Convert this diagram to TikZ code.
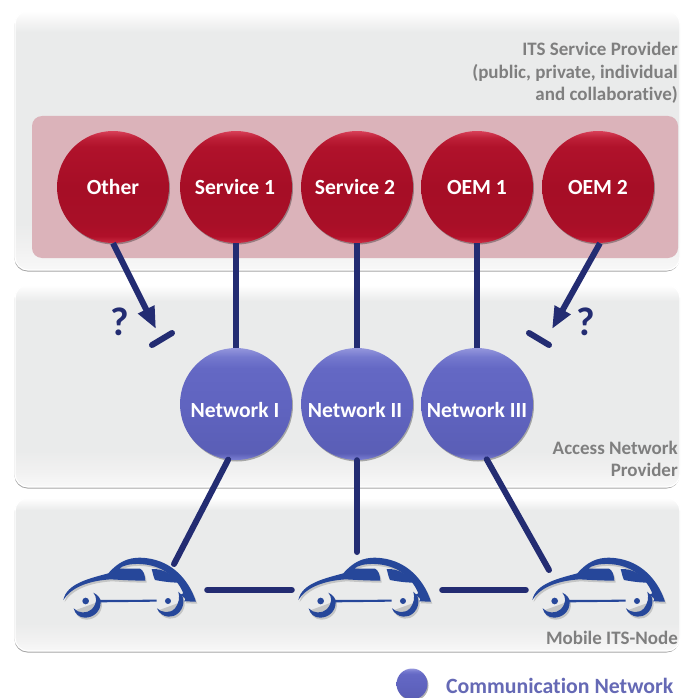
\documentclass[tikz,border=0pt]{standalone}
\usepackage{fontspec}
\setmainfont[Ligatures=NoCommon]{Carlito}
\usetikzlibrary{shadows,arrows.meta,fadings}
\definecolor{navy}{HTML}{232C72}
\definecolor{carblue}{HTML}{26479A}
\definecolor{labelgrey}{HTML}{7F7F7F}
\definecolor{bluerim}{HTML}{4A4EA8}
\definecolor{panelrose}{HTML}{DBB3BA}
\definecolor{pa}{HTML}{F8F8F8}
\definecolor{pb}{HTML}{F1F1F1}
\definecolor{pc}{HTML}{EAEBEB}
\definecolor{pd}{HTML}{FAFAFA}
\definecolor{ra}{HTML}{CC2A42}
\definecolor{rb}{HTML}{B01029}
\definecolor{rc}{HTML}{A80F27}
\definecolor{rd}{HTML}{A60E26}
\definecolor{re}{HTML}{B0122B}
\definecolor{rf}{HTML}{BE2038}
\definecolor{rg}{HTML}{D84058}
\definecolor{ba}{HTML}{7C80D4}
\definecolor{bb}{HTML}{5A5EB6}
\definecolor{bc}{HTML}{6064C0}
\definecolor{bd}{HTML}{6468C4}
\definecolor{be}{HTML}{7478CE}
\definecolor{bf}{HTML}{9496DC}
\pgfdeclareverticalshading{panelshade}{100bp}{color(0bp)=(pa); color(25bp)=(pa); color(29bp)=(pb); color(34bp)=(pc); color(71bp)=(pc); color(74bp)=(pd); color(75bp)=(white); color(100bp)=(white)}
\pgfdeclareverticalshading{redsphere}{100bp}{color(0bp)=(ra); color(25bp)=(ra); color(28bp)=(rb); color(34bp)=(rc); color(50bp)=(rd); color(68bp)=(re); color(72bp)=(rf); color(75bp)=(rg); color(100bp)=(rg)}
\pgfdeclareverticalshading{bluesphere}{100bp}{color(0bp)=(ba); color(25bp)=(ba); color(28bp)=(bb); color(50bp)=(bc); color(66bp)=(bd); color(71bp)=(be); color(75bp)=(bf); color(100bp)=(bf)}
\newcommand{\ballword}[3]{\makebox[0pt]{\kern#1\raisebox{#2}[0pt][0pt]{#3}}}
\tikzset{
  x=1pt,y=-1pt,
  panel/.style={draw=white,line width=1.2pt,rounded corners=13pt,shading=panelshade,
     drop shadow={shadow xshift=-.5pt,shadow yshift=-1.5pt,fill=black!70,opacity=.5}},
  ball/.style={circle,minimum size=112pt,inner sep=0pt,font=\fontsize{21.6}{24}\selectfont\bfseries,text=white,
     drop shadow={shadow xshift=1pt,shadow yshift=-1.5pt,opacity=.3,fill=black}},
  redball/.style={ball,shading=redsphere},
  blueball/.style={ball,shading=bluesphere},
  link/.style={navy,line width=6pt},
  linkround/.style={navy,line width=6pt,line cap=round},
  tag/.style={text=labelgrey,font=\fontsize{19}{22.3}\selectfont\bfseries,align=right,inner sep=0pt},
  query/.style={text=navy,font=\fontsize{40}{42}\selectfont\bfseries,inner sep=0pt},
  carspot/.style={inner sep=0pt,minimum width=134pt,minimum height=60pt},
  carshape/.style={fill=carblue,draw=none},
}
\newcommand{\carbody}{%
  (70,180) .. controls (80,130) and (150,115) .. (205,100) .. controls (235,65) and (265,53) .. (300,53) .. controls (390,55) and (445,115) .. (468,185) -- (432,184) .. controls (440,178) and (435,172) .. (420,165) -- (430,160) .. controls (412,115) and (370,75) .. (300,72) .. controls (270,71) and (248,76) .. (238,86) -- (300,86) .. controls (310,90) and (315,105) .. (316,122) .. controls (285,122) and (245,120) .. (212,118) .. controls (150,122) and (95,140) .. (70,180) -- cycle}
% car drawn in the units of a 3x crop; origin = car's upper-left reference
\newcommand{\carat}[2]{%
 \begin{scope}[shift={(#1,#2)},x=0.3333pt,y=-0.3333pt]
  \begin{scope}[shift={(4,6)},opacity=.16]
   \fill[black] \carbody;
   \fill[black] (160,158) .. controls (175,165) and (182,175) .. (182,187) .. controls (182,215) and (160,233) .. (135,233) .. controls (118,233) and (105,222) .. (101,205) -- (170,180) -- cycle;
   \fill[black] (415,155) .. controls (428,165) and (432,178) .. (430,190) .. controls (427,215) and (405,232) .. (385,230) .. controls (370,229) and (355,218) .. (351,205) -- (420,180) -- cycle;
  \end{scope}
  % rear wing and roof
  \path[carshape] \carbody;
  % front window
  \path[carshape] (335,87) .. controls (370,85) and (400,105) .. (420,128) .. controls (395,128) and (370,125) .. (345,120) .. controls (340,110) and (338,97) .. (335,87) -- cycle;
  % rear wheel arch
  \path[carshape] (160,158) .. controls (175,165) and (182,175) .. (182,187) .. controls (182,215) and (160,233) .. (135,233) .. controls (118,233) and (105,222) .. (101,205) .. controls (115,220) and (140,222) .. (155,208) .. controls (172,190) and (172,172) .. (160,158) -- cycle;
  \fill[carblue] (137,183) circle (10);
  % sill
  \path[carshape] (180,180) -- (350,179) -- (350,185) -- (180,187) -- cycle;
  % front wheel arch
  \path[carshape] (415,155) .. controls (428,165) and (432,178) .. (430,190) .. controls (427,215) and (405,232) .. (385,230) .. controls (370,229) and (355,218) .. (351,205) .. controls (365,218) and (390,222) .. (405,205) .. controls (417,190) and (420,172) .. (415,155) -- cycle;
  \fill[carblue] (384,183) circle (9);
 \end{scope}}
\begin{document}
\begin{tikzpicture}
\useasboundingbox (0,0) rectangle (681,698);
\clip (0,0) rectangle (681,698);
\fill[white] (0,0) rectangle (681,698);
% panels
\path[panel] (15,11) rectangle (680,270);
\path[panel] (15,285) rectangle (680,487);
\path[panel] (15,498) rectangle (680,651);
\fill[panelrose,rounded corners=10pt] (32,116) rectangle (678,258);
% labels
\node[tag,anchor=east] (provtext) at (678,73) {ITS Service Provider\\(public, private, individual\\and collaborative)};
\node[tag,anchor=east] (accesstext) at (678,459) {Access Network\\Provider};
\node[tag,anchor=east] (mobiletext) at (678,638) {Mobile ITS-Node};
% anchors
\node[carspot] (car1) at (129,590) {};
\node[carspot] (car2) at (364,590) {};
\node[carspot] (car3) at (598,590) {};
\coordinate (car1up) at (174,564);
\coordinate (car2up) at (357,552);
\coordinate (car3up) at (549,570);
\coordinate (blockLa) at (152,345);
\coordinate (blockLb) at (172,333);
\coordinate (blockRa) at (529,333);
\coordinate (blockRb) at (549,345);
\coordinate (tipL) at (156,329);
\coordinate (tipR) at (552,329);
% balls
\node[redball] (other) at (113,187) {\ballword{0pt}{-7pt}{Other}};
\node[redball] (s1) at (236,187) {\ballword{-2pt}{-7pt}{Service 1}};
\node[redball] (s2) at (357,187) {\ballword{-4pt}{-7pt}{Service 2}};
\node[redball] (oem1) at (477,187) {\ballword{0pt}{-7pt}{OEM 1}};
\node[redball] (oem2) at (598,187) {\ballword{0pt}{-7pt}{OEM 2}};
\node[blueball] (n1) at (236,404) {\ballword{-2pt}{-13pt}{Network I}};
\node[blueball] (n2) at (357,404) {\ballword{-4pt}{-13pt}{Network II}};
\node[blueball] (n3) at (477,404) {\ballword{0pt}{-13pt}{Network III}};
% connectors
\draw[link] (s1) -- (n1);
\draw[link] (s2) -- (n2);
\draw[link] (oem1) -- (n3);
\draw[link,line cap=round] (n1.262) -- (car1up);
\draw[link,line cap=round] (n2) -- (car2up);
\draw[link,line cap=round] (n3.280) -- (car3up);
\draw[linkround,shorten >=5pt,shorten <=11pt] (car1) -- (car2);
\draw[linkround,shorten >=5pt,shorten <=11pt] (car2) -- (car3);
\draw[link,-{Triangle[width=17pt,length=22pt]}] (other.270) -- (tipL);
\draw[link,-{Triangle[width=17pt,length=22pt]}] (oem2.272) -- (tipR);
\draw[linkround] (blockLa) -- (blockLb);
\draw[linkround] (blockRa) -- (blockRb);
\node[query] (qL) at (120,322) {?};
\node[query] (qR) at (586,322) {?};
% cars
\carat{40}{540}
\carat{275}{540}
\carat{509}{540}
% legend
\node[blueball,minimum size=31pt] (legend) at (412,684) {};
\node[anchor=west,inner sep=0pt,text=bluerim!85!white,font=\fontsize{21.8}{22}\selectfont\bfseries] (legendT) at (446,685.5) {Communication Network};
\end{tikzpicture}
\end{document}
